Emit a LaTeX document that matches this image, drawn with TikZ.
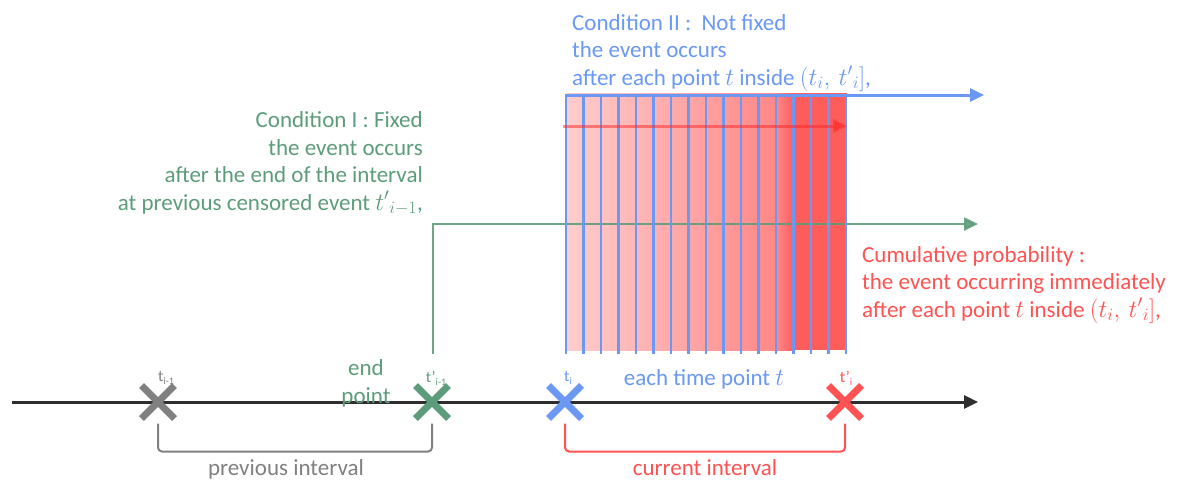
\documentclass[tikz,border=0pt]{standalone}
\usepackage{fontspec}
\setmainfont{Carlito}
\usetikzlibrary{arrows.meta,shapes.misc}

\definecolor{cblue}{HTML}{6A98F4}
\definecolor{cgreen}{HTML}{5D9C7B}
\definecolor{cred}{HTML}{FF5252}
\definecolor{cgray}{HTML}{808080}
\definecolor{caxis}{HTML}{2E2E2E}
\definecolor{shadeA}{HTML}{FFCDCD}
\definecolor{shadeB}{HTML}{FF8888}
\definecolor{shadeC}{HTML}{FF5C5C}

\tikzset{
  bigfont/.style={font=\fontsize{23}{27.5}\selectfont},
  smallfont/.style={font=\fontsize{16}{16}\selectfont},
  tip/.style={-{Triangle[length=14pt,width=13pt]}},
  xmark/.style={cross out, draw, line width=7pt, minimum size=26pt, inner sep=0pt},
  bracket/.style={line width=2pt, rounded corners=4pt},
  bluebar/.style={cblue, line width=2.2pt},
  txt/.style={bigfont, inner sep=0pt},
}

\begin{document}
\begin{tikzpicture}[x=1pt,y=-1pt]
\useasboundingbox (0,0) rectangle (1177,482);

% cumulative probability shading over the current interval
\shade[left color=shadeA, right color=shadeB] (566,93) rectangle (776,350);
\shade[left color=shadeB, right color=shadeC] (776,93) rectangle (794,350);
\fill[shadeC] (794,93) rectangle (847,350);

% condition I: fixed, from the previous censored event onwards
\coordinate (gstart) at (433,354);
\coordinate (gend) at (978,224);
\draw[cgreen, line width=2.5pt, tip, opacity=0.9] (gstart) |- (gend);

% condition II: each time point inside the current interval
\foreach \k in {0,...,16}
  \draw[bluebar] (566+17.5*\k,95) -- (566+17.5*\k,354);
\coordinate (bstart) at (565,95);
\coordinate (bend) at (984,95);
\draw[cblue, line width=3pt, tip] (bstart) -- (bend);

% accumulation arrow inside the shaded band
\coordinate (rstart) at (563,126);
\coordinate (rend) at (847,126);
\draw[red!85!white, line width=3pt, opacity=0.5, tip] (rstart) -- (rend);

% time axis
\coordinate (axL) at (12,402);
\coordinate (axR) at (978,402);
\draw[caxis, line width=3pt, tip] (axL) -- (axR);

% events on the axis
\node[xmark, cgray]  (x1) at (158,402) {};
\node[xmark, cgreen] (x2) at (432,402) {};
\node[xmark, cblue]  (x3) at (565,402) {};
\node[xmark, cred]   (x4) at (845,402) {};

\node[smallfont, text=cgray]  (l1) at (166,378) {t\raisebox{-3pt}{\fontsize{10}{10}\selectfont i-1}};
\node[smallfont, text=cgreen] (l2) at (436,378) {t’\raisebox{-3pt}{\fontsize{10}{10}\selectfont i-1}};
\node[smallfont, text=cblue]  (l3) at (568,378) {t\raisebox{-3pt}{\fontsize{10}{10}\selectfont i}};
\node[smallfont, text=cred]   (l4) at (846,378) {t’\raisebox{-3pt}{\fontsize{10}{10}\selectfont i}};

% intervals
\draw[bracket, cgray] ([yshift=-5pt]x1.south) -- ([yshift=-33pt]x1.south) -| ([yshift=-5pt]x2.south);
\draw[bracket, cred]  ([yshift=-5pt]x3.south) -- ([yshift=-33pt]x3.south) -| ([yshift=-5pt]x4.south);
\node[txt, text=cgray, anchor=base] (prev) at (286,475) {previous interval};
\node[txt, text=cred, anchor=base]  (curr) at (705,475) {current interval};

% labels (the base anchor of a multi-line node is its last line)
\node[txt, text=cblue, anchor=base] (each) at (704,385) {each time point $t$};
\node[txt, text=cgreen, align=center, anchor=base] (endp) at (366,403) {end\\point};

\node[txt, text=cblue, align=left, anchor=base west] (c2) at (572,85)
  {Condition II :\ \ Not fixed\\the event occurs\\after each point $t$ inside $(t_i,\,{t'}_i]$,};
\node[txt, text=cgreen, align=right, anchor=base east] (c1) at (423,210)
  {Condition I : Fixed\\the event occurs\\after the end of the interval\\at previous censored event ${t'}_{i-1}$,};
\node[txt, text=cred, align=left, anchor=base west] (cp) at (862,317)
  {Cumulative probability :\\the event occurring immediately\\after each point $t$ inside $(t_i,\,{t'}_i]$,};
\end{tikzpicture}
\end{document}
